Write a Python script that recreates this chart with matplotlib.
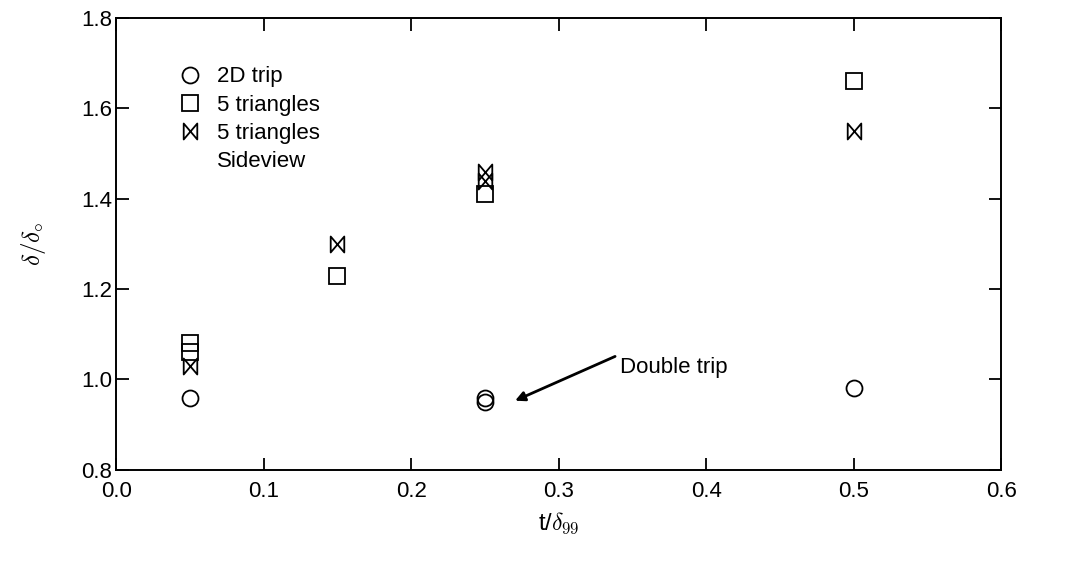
import numpy as np
import matplotlib.pyplot as plt
from matplotlib.path import Path

plt.rcParams['font.family'] = ['Liberation Sans', 'DejaVu Sans']
plt.rcParams['mathtext.fontset'] = 'cm'

# ── Dados ─────────────────────────────────────────────────────────────────
trip2d_x = [0.05, 0.25, 0.25, 0.50]
trip2d_y = [0.96, 0.96, 0.95, 0.98]

tri_x = [0.05, 0.05, 0.15, 0.25, 0.50]
tri_y = [1.08, 1.06, 1.23, 1.41, 1.66]

side_x = [0.05, 0.15, 0.25, 0.25, 0.50]
side_y = [1.03, 1.30, 1.44, 1.46, 1.55]

xticks = [0.0, 0.1, 0.2, 0.3, 0.4, 0.5, 0.6]
yticks = [0.8, 1.0, 1.2, 1.4, 1.6, 1.8]

# marcador "bowtie" (dois triangulos)
bowtie = Path([(-0.85, 1), (0.85, -1), (0.85, 1), (-0.85, -1), (-0.85, 1)],
              [Path.MOVETO, Path.LINETO, Path.LINETO, Path.LINETO, Path.CLOSEPOLY])

fig = plt.figure(figsize=(10.65, 5.62), dpi=100)
ax = fig.add_axes([0.109, 0.164, 0.831, 0.804])

mk = dict(linestyle='none', markerfacecolor='none', markeredgecolor='black',
          markeredgewidth=1.3)
h1, = ax.plot(trip2d_x, trip2d_y, marker='o', markersize=11.5, label='2D trip', **mk)
h2, = ax.plot(tri_x, tri_y, marker='s', markersize=11, label='5 triangles', **mk)
h3, = ax.plot(side_x, side_y, marker=bowtie, markersize=11.5, label='5 triangles', **mk)
h4, = ax.plot([], [], linestyle='none', label='Sideview')

ax.legend(handles=[h1, h2, h3, h4], loc='upper left', bbox_to_anchor=(0.073, 0.893),
          frameon=False, fontsize=16, handlelength=0.8, handletextpad=0.85,
          labelspacing=0.33, borderaxespad=0, borderpad=0, markerscale=1.0)

ax.annotate('', xy=(0.2705, 0.953), xytext=(0.3383, 1.051),
            arrowprops=dict(arrowstyle='-|>', color='black', lw=2.0,
                            mutation_scale=14, shrinkA=0, shrinkB=0))
ax.text(0.3417, 1.027, 'Double trip', fontsize=16, va='center', ha='left')

ax.set_xlim(0, 0.6)
ax.set_ylim(0.8, 1.8)
ax.set_xticks(xticks)
ax.set_yticks(yticks)
ax.set_xticklabels([f'{v:.1f}' for v in xticks], fontsize=16)
ax.set_yticklabels([f'{v:.1f}' for v in yticks], fontsize=16)
ax.tick_params(direction='in', length=9, width=1.3, top=True, right=True)
ax.tick_params(axis='x', pad=8)
ax.tick_params(axis='y', pad=3)
for s in ax.spines.values():
    s.set_linewidth(1.4)

ax.set_xlabel(r't/$\delta_{\mathsf{99}}$', fontsize=17, labelpad=6)
ax.set_ylabel(r'$\delta/\delta_{\circ}$', fontsize=18, labelpad=24)

plt.savefig('out.png', dpi=100)
